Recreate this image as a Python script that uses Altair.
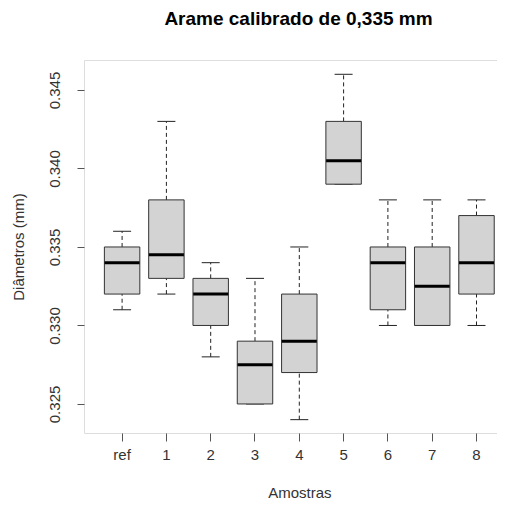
import altair as alt
import pandas as pd

labels = ["ref", "1", "2", "3", "4", "5", "6", "7", "8"]
whisker_low = [0.331, 0.332, 0.328, 0.325, 0.324, 0.339, 0.330, 0.330, 0.330]
q1 = [0.332, 0.333, 0.330, 0.325, 0.327, 0.339, 0.331, 0.330, 0.332]
median = [0.334, 0.3345, 0.332, 0.3275, 0.329, 0.3405, 0.334, 0.3325, 0.334]
q3 = [0.335, 0.338, 0.333, 0.329, 0.332, 0.343, 0.335, 0.335, 0.337]
whisker_high = [0.336, 0.343, 0.334, 0.333, 0.335, 0.346, 0.338, 0.338, 0.338]
y_ticks = [0.325, 0.330, 0.335, 0.340, 0.345]

df = pd.DataFrame({
    "amostra": labels,
    "lo": whisker_low,
    "q1": q1,
    "med": median,
    "q3": q3,
    "hi": whisker_high,
})

FONT = "Liberation Sans"

xscale = alt.Scale(type="band", domain=labels, range=[0, 430.6],
                   paddingInner=0.2, paddingOuter=0.46)
yscale = alt.Scale(domain=[0.32315, 0.34691], nice=False, zero=False)

xenc = alt.X("amostra:N", scale=xscale, sort=labels,
             axis=alt.Axis(title="Amostras", labelAngle=0, domain=False,
                           ticks=True, tickSize=8, tickColor="#555",
                           labelPadding=6, labelFont=FONT, labelFontSize=15,
                           labelColor="#333", titleFont=FONT, titleFontSize=15,
                           titleFontWeight="normal", titleColor="#333",
                           titleX=215.3, titleY=64, titleBaseline="alphabetic",
                           grid=False))

yaxis = alt.Axis(title="Diâmetros (mm)", values=y_ticks, format=".3f",
                 domain=False, tickSize=7, tickColor="#555", labelAngle=-90,
                 labelBaseline="middle", labelAlign="center", labelPadding=23,
                 labelFont=FONT, labelFontSize=15, labelColor="#333",
                 titleFont=FONT, titleFontSize=15, titleFontWeight="normal",
                 titleColor="#333", titleAngle=-90, titleX=-66, titleY=186.5,
                 titleBaseline="middle", titleAlign="center", grid=False)

base = alt.Chart(df)

upper = base.mark_rule(color="#222", strokeWidth=1, strokeDash=[4, 3], opacity=1).encode(
    x=xenc, y=alt.Y("q3:Q", scale=yscale, axis=yaxis), y2="hi:Q")
lower = base.mark_rule(color="#222", strokeWidth=1, strokeDash=[4, 3], opacity=1).encode(
    x=xenc, y=alt.Y("lo:Q", scale=yscale), y2="q1:Q")
cap_hi = base.mark_tick(color="#222", thickness=1, size=18, orient="horizontal",
                        opacity=1).encode(x=xenc, y=alt.Y("hi:Q", scale=yscale))
cap_lo = base.mark_tick(color="#222", thickness=1, size=18, orient="horizontal",
                        opacity=1).encode(x=xenc, y=alt.Y("lo:Q", scale=yscale))
box = base.mark_bar(fill="#d3d3d3", stroke="#333", strokeWidth=1, opacity=1).encode(
    x=xenc, y=alt.Y("q1:Q", scale=yscale), y2="q3:Q")
med = base.mark_tick(color="#000", thickness=3, size=35, orient="horizontal",
                     opacity=1).encode(x=xenc, y=alt.Y("med:Q", scale=yscale))

chart = alt.layer(upper, lower, cap_hi, cap_lo, box, med).properties(
    width=421, height=373,
    title=alt.TitleParams("Arame calibrado de 0,335 mm", font=FONT, fontSize=19,
                          fontWeight="bold", color="#000", anchor="middle",
                          baseline="alphabetic", offset=16, dx=4),
    autosize=alt.AutoSizeParams(type="none"),
    padding={"left": 76, "top": 52, "right": -8, "bottom": 69},
).configure_view(stroke="#555", strokeWidth=1).configure(background="white")

chart.save("out.html", embed_options={"renderer": "svg", "actions": False})
